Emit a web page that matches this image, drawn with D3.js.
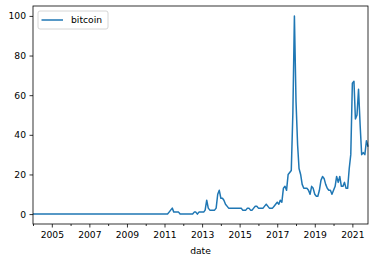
<!DOCTYPE html>
<html>
<head>
<meta charset="utf-8">
<script src="https://cdn.jsdelivr.net/npm/d3@7"></script>
<style>
  body { margin: 0; background: #fff; }
  text { font-family: "DejaVu Sans", sans-serif; }
</style>
</head>
<body>
<div id="chart"></div>
<script>
// monthly search interest, starting 2004-01
var startYear = 2004, startMonth = 0;
var bitcoin = [
  // 2004 - 2010
  0,0,0,0,0,0,0,0,0,0,0,0,
  0,0,0,0,0,0,0,0,0,0,0,0,
  0,0,0,0,0,0,0,0,0,0,0,0,
  0,0,0,0,0,0,0,0,0,0,0,0,
  0,0,0,0,0,0,0,0,0,0,0,0,
  0,0,0,0,0,0,0,0,0,0,0,0,
  0,0,0,0,0,0,0,0,0,0,0,0,
  // 2011
  0,0,0,1,2,3,1,1,1,1,0,0,
  // 2012
  0,0,0,0,0,0,0,1,1,0,1,1,
  // 2013
  1,1,2,7,3,2,2,2,2,3,10,12,
  // 2014
  8,8,7,5,4,3,3,3,3,3,3,3,
  // 2015
  3,3,2,2,2,3,3,2,2,3,4,4,
  // 2016
  3,3,3,3,4,5,4,3,3,3,4,5,
  // 2017
  6,5,7,6,13,14,12,20,21,22,51,100,
  // 2018
  57,35,23,20,15,13,13,13,12,10,14,13,
  // 2019
  10,9,9,12,17,19,18,15,13,12,12,10,
  // 2020
  12,14,19,16,19,14,14,16,13,13,23,30,
  // 2021
  66,67,48,50,63,45,30,31,30,37,34
];
var yTicks = [0, 20, 40, 60, 80, 100];
var majorYears = [2005, 2007, 2009, 2011, 2013, 2015, 2017, 2019, 2021];
var minorYears = [2004, 2006, 2008, 2010, 2012, 2014, 2016, 2018, 2020];
var seriesName = "bitcoin";
var xLabel = "date";

var data = bitcoin.map(function (v, i) {
  return { date: new Date(startYear, startMonth + i, 1), value: v };
});

var W = 375, H = 262;
var margin = { top: 6, right: 7, bottom: 38, left: 33 },
    width = W - margin.left - margin.right,
    height = H - margin.top - margin.bottom;

var svg = d3.select("#chart").append("svg")
    .attr("width", W).attr("height", H);
var g = svg.append("g")
    .attr("transform", "translate(" + margin.left + "," + margin.top + ")");

var x = d3.scaleTime()
    .domain(d3.extent(data, function (d) { return d.date; }))
    .range([0, width]);
var y = d3.scaleLinear().domain([-5, 105]).range([height, 0]);

// x axis: major odd years, minor even years
var xMajor = g.append("g")
    .attr("transform", "translate(0," + height + ")")
    .call(d3.axisBottom(x)
      .tickValues(majorYears.map(function (yr) { return new Date(yr, 0, 1); }))
      .tickFormat(d3.timeFormat("%Y"))
      .tickSize(3.5).tickPadding(3.5));
var xMinor = g.append("g")
    .attr("transform", "translate(0," + height + ")")
    .call(d3.axisBottom(x)
      .tickValues(minorYears.map(function (yr) { return new Date(yr, 0, 1); }))
      .tickFormat("")
      .tickSize(2));
var yAxis = g.append("g")
    .call(d3.axisLeft(y).tickValues(yTicks).tickSize(3.5).tickPadding(3.5));

[xMajor, xMinor, yAxis].forEach(function (a) {
  a.select(".domain").remove();
  a.selectAll("line").attr("stroke", "#000").attr("stroke-width", 0.8);
  a.selectAll("text").attr("fill", "#000").style("font-size", "9.2px")
    .style("font-family", "DejaVu Sans");
});

// line
g.append("path")
    .datum(data)
    .attr("fill", "none")
    .attr("stroke", "#1f77b4")
    .attr("stroke-width", 1.5)
    .attr("stroke-linejoin", "round")
    .attr("d", d3.line()
      .x(function (d) { return x(d.date); })
      .y(function (d) { return y(d.value); }));

// frame
g.append("rect")
    .attr("width", width).attr("height", height)
    .attr("fill", "none").attr("stroke", "#000").attr("stroke-width", 0.8);

// x label
g.append("text")
    .attr("x", width / 2).attr("y", height + 30)
    .attr("text-anchor", "middle")
    .style("font-size", "9.2px")
    .text(xLabel);

// legend
var lg = g.append("g").attr("transform", "translate(5,5)");
lg.append("rect")
    .attr("width", 70).attr("height", 18).attr("rx", 2)
    .attr("fill", "#fff").attr("fill-opacity", 0.8)
    .attr("stroke", "#ccc").attr("stroke-width", 0.8);
lg.append("line")
    .attr("x1", 3.5).attr("x2", 25).attr("y1", 9).attr("y2", 9)
    .attr("stroke", "#1f77b4").attr("stroke-width", 1.5);
lg.append("text")
    .attr("x", 33).attr("y", 12.3)
    .style("font-size", "9.2px")
    .text(seriesName);
</script>
</body>
</html>
